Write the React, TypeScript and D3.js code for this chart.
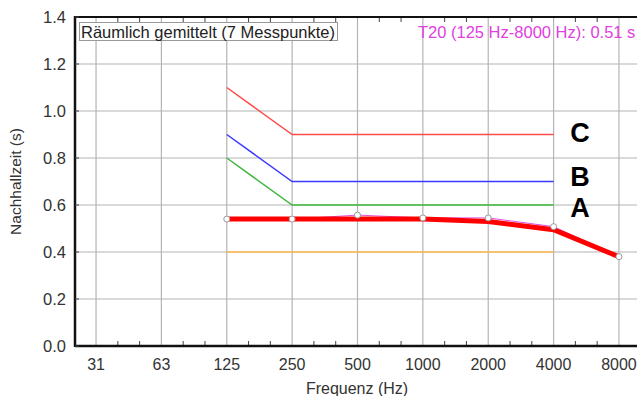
import React, { useEffect, useRef } from "react";
import * as d3 from "d3";

// octave band centres and their printed labels
const freqs = [31.25, 62.5, 125, 250, 500, 1000, 2000, 4000, 8000];
const freqLabels = ["31", "63", "125", "250", "500", "1000", "2000", "4000", "8000"];
const yTicks = [0, 0.2, 0.4, 0.6, 0.8, 1.0, 1.2, 1.4];

// tolerance limits (125 .. 4000 Hz)
const limitFreqs = [125, 250, 4000];
const limitC = [1.1, 0.9, 0.9];
const limitB = [0.9, 0.7, 0.7];
const limitA = [0.8, 0.6, 0.6];
const lowerFreqs = [125, 4000];
const lowerLimit = [0.4, 0.4];

// measured T20, spatially averaged
const measFreqs = [125, 250, 500, 1000, 2000, 4000, 8000];
const measured = [0.54, 0.54, 0.557, 0.545, 0.545, 0.508, 0.38];
// hand-drawn thick curve
const thickFreqs = [128, 250, 500, 1000, 2000, 4000, 8000];
const thickValues = [0.54, 0.54, 0.54, 0.54, 0.53, 0.495, 0.38];

const classLabels = ["C", "B", "A"];
const classLevels = [0.91, 0.725, 0.59];

const width = 637;
const height = 396;
const margin = { top: 17, right: -3, bottom: 50, left: 75 };

const font = "'Liberation Sans', Arial, sans-serif";

export default function App() {
  const svgRef = useRef<SVGSVGElement>(null);

  useEffect(() => {
    const svg = d3.select(svgRef.current);
    svg.selectAll("*").remove();

    const x = d3.scaleLog().base(2).domain([25, 10000]).range([margin.left, width - margin.right]);
    const y = d3.scaleLinear().domain([0, 1.4]).range([height - margin.bottom, margin.top]);
    const top = y(1.4);
    const bottom = y(0);

    const g = svg.append("g");

    // grid
    g.selectAll(".vgrid")
      .data(freqs)
      .enter()
      .append("line")
      .attr("x1", (d) => x(d))
      .attr("x2", (d) => x(d))
      .attr("y1", top)
      .attr("y2", bottom)
      .attr("stroke", "#b4b4b4")
      .attr("stroke-width", 1.2);
    g.selectAll(".hgrid")
      .data(yTicks.slice(1))
      .enter()
      .append("line")
      .attr("x1", margin.left)
      .attr("x2", width)
      .attr("y1", (d) => y(d))
      .attr("y2", (d) => y(d))
      .attr("stroke", "#b4b4b4")
      .attr("stroke-width", 1.2);

    // third-octave minor ticks on top and bottom
    const minor: number[] = [];
    freqs.forEach((f) => {
      minor.push(f * Math.pow(2, 1 / 3), f * Math.pow(2, 2 / 3));
    });
    minor.unshift(31.25 / Math.pow(2, 1 / 3));
    const minorIn = minor.filter((f) => x(f) > margin.left + 2 && x(f) < width);
    [bottom, top].forEach((yy, k) => {
      g.selectAll(null)
        .data(minorIn)
        .enter()
        .append("line")
        .attr("x1", (d) => x(d))
        .attr("x2", (d) => x(d))
        .attr("y1", yy)
        .attr("y2", k === 0 ? yy - 5 : yy + 5)
        .attr("stroke", "#444")
        .attr("stroke-width", 1);
    });

    // axes frame
    g.append("line")
      .attr("x1", margin.left)
      .attr("x2", width)
      .attr("y1", top)
      .attr("y2", top)
      .attr("stroke", "#111")
      .attr("stroke-width", 2);
    g.append("line")
      .attr("x1", margin.left)
      .attr("x2", width)
      .attr("y1", bottom)
      .attr("y2", bottom)
      .attr("stroke", "#111")
      .attr("stroke-width", 2.5);
    g.append("line")
      .attr("x1", margin.left)
      .attr("x2", margin.left)
      .attr("y1", top - 1)
      .attr("y2", bottom + 1)
      .attr("stroke", "#111")
      .attr("stroke-width", 2.5);
    g.selectAll(".ytick")
      .data(yTicks)
      .enter()
      .append("line")
      .attr("x1", margin.left)
      .attr("x2", margin.left + 4)
      .attr("y1", (d) => y(d))
      .attr("y2", (d) => y(d))
      .attr("stroke", "#444");

    // tick labels
    g.selectAll(".ylab")
      .data(yTicks)
      .enter()
      .append("text")
      .attr("x", 66)
      .attr("y", (d) => y(d) + 6)
      .attr("text-anchor", "end")
      .attr("font-family", font)
      .attr("font-size", 16.5)
      .attr("fill", "#333")
      .text((d) => d.toFixed(1));
    g.selectAll(".xlab")
      .data(freqs)
      .enter()
      .append("text")
      .attr("x", (d) => x(d))
      .attr("y", 370)
      .attr("text-anchor", "middle")
      .attr("font-family", font)
      .attr("font-size", 16)
      .attr("fill", "#333")
      .text((d, i) => freqLabels[i]);

    g.append("text")
      .attr("x", 357)
      .attr("y", 394)
      .attr("text-anchor", "middle")
      .attr("font-family", font)
      .attr("font-size", 16)
      .attr("fill", "#333")
      .text("Frequenz (Hz)");
    g.append("text")
      .attr("transform", `translate(21,${(top + bottom) / 2}) rotate(-90)`)
      .attr("text-anchor", "middle")
      .attr("font-family", font)
      .attr("font-size", 15.5)
      .attr("fill", "#333")
      .text("Nachhallzeit (s)");

    // limit lines
    const line = d3
      .line<[number, number]>()
      .x((d) => x(d[0]))
      .y((d) => y(d[1]));
    const limits: [number[], number[], string][] = [
      [limitFreqs, limitC, "#ff4b4b"],
      [limitFreqs, limitB, "#3a3aff"],
      [limitFreqs, limitA, "#3fb63f"],
      [lowerFreqs, lowerLimit, "#ffb84d"],
    ];
    limits.forEach(([fs, vs, c]) => {
      g.append("path")
        .attr("d", line(fs.map((f, i) => [f, vs[i]])))
        .attr("fill", "none")
        .attr("stroke", c)
        .attr("stroke-width", 1.5);
    });

    // measured thin line + thick red overlay + markers
    g.append("path")
      .attr("d", line(measFreqs.map((f, i) => [f, measured[i]])))
      .attr("fill", "none")
      .attr("stroke", "#e050e0")
      .attr("stroke-width", 1);
    g.append("path")
      .attr("d", line(thickFreqs.map((f, i) => [f, thickValues[i]])))
      .attr("fill", "none")
      .attr("stroke", "#ff0000")
      .attr("stroke-width", 5);
    g.selectAll(".pt")
      .data(measFreqs)
      .enter()
      .append("circle")
      .attr("cx", (d) => x(d))
      .attr("cy", (d, i) => y(measured[i]))
      .attr("r", 3)
      .attr("fill", "#fff")
      .attr("stroke", "#999")
      .attr("stroke-width", 1);

    // class labels
    g.selectAll(".cls")
      .data(classLabels)
      .enter()
      .append("text")
      .attr("x", 580)
      .attr("y", (d, i) => y(classLevels[i]) + 10)
      .attr("text-anchor", "middle")
      .attr("font-family", font)
      .attr("font-weight", "bold")
      .attr("font-size", 27)
      .attr("fill", "#000")
      .text((d) => d);

    // legend box
    g.append("rect")
      .attr("x", 79.5)
      .attr("y", 22.5)
      .attr("width", 258)
      .attr("height", 18)
      .attr("fill", "#fff")
      .attr("stroke", "#999");
    g.append("text")
      .attr("x", 81)
      .attr("y", 37.5)
      .attr("font-family", font)
      .attr("font-size", 16.5)
      .attr("fill", "#222")
      .text("Räumlich gemittelt (7 Messpunkte)");
    g.append("text")
      .attr("x", 418)
      .attr("y", 37.5)
      .attr("font-family", font)
      .attr("font-size", 16.5)
      .attr("fill", "#e040e0")
      .text("T20 (125 Hz-8000 Hz): 0.51 s");
  }, []);

  return (
    <svg
      ref={svgRef}
      width={width}
      height={height}
      style={{ position: "absolute", left: 0, top: 0, background: "#fff" }}
    />
  );
}
